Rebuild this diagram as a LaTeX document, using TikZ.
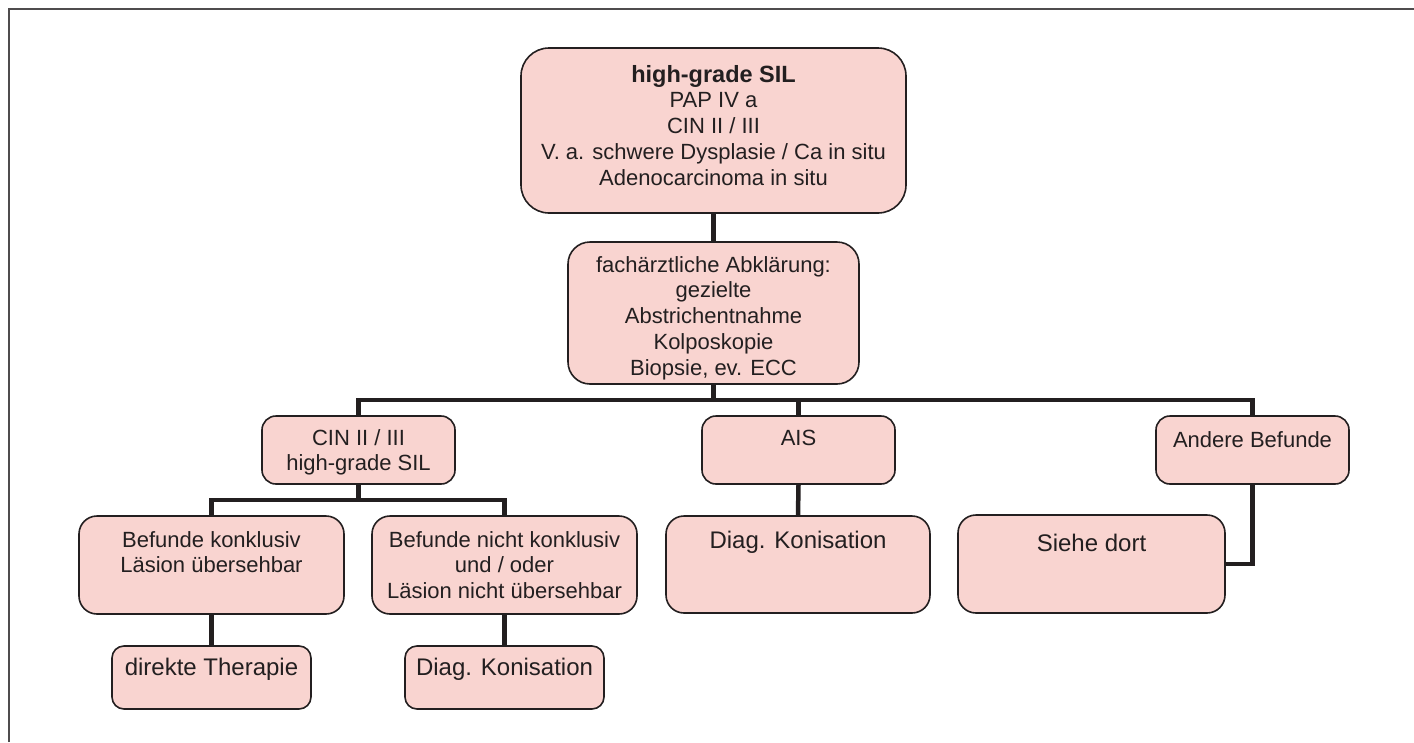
\documentclass[tikz,border=0pt]{standalone}
\usepackage{fontspec}
\setmainfont{Liberation Sans}
\definecolor{boxfill}{RGB}{249,212,208}
\definecolor{ink}{RGB}{35,31,32}
% centred stack of lines whose baseline is that of the first line
\newcommand\boxlines[1]{\begin{tabular}[t]{@{}c@{}}#1\end{tabular}}
\begin{document}
\begin{tikzpicture}[x=1pt,y=-1pt,
  panel/.style={draw=ink, line width=1.6pt, fill=boxfill, inner sep=0pt, rounded corners=#1},
  panel/.default=16pt,
  txt/.style={inner sep=0pt, anchor=base, text=ink, font=\fontsize{22}{25.8}\selectfont},
  bigtxt/.style={txt, font=\fontsize{24}{28}\selectfont},
  conn/.style={draw=ink, line width=4.5pt},
  frame/.style={draw=ink!80, line width=2pt}]
\useasboundingbox (0,0) rectangle (1414,742);

% outer frame (left and top edges)
\draw[frame] (9,742) -- (9,9) -- (1414,9);

% boxes
\node[panel=28pt, minimum width=385pt, minimum height=165pt] (top)    at (713.5,130.5) {};
\node[panel=22pt, minimum width=291pt, minimum height=142pt] (exam)   at (713.5,313)   {};
\node[panel=14pt, minimum width=193pt, minimum height=68pt]  (cin)    at (358.5,450)   {};
\node[panel=14pt, minimum width=193pt, minimum height=68pt]  (ais)    at (798.5,450)   {};
\node[panel=14pt, minimum width=193pt, minimum height=68pt]  (other)  at (1252.5,450)  {};
\node[panel=18pt, minimum width=265pt, minimum height=98pt]  (conc)   at (211.5,565)   {};
\node[panel=18pt, minimum width=265pt, minimum height=98pt]  (nconc)  at (504.5,565)   {};
\node[panel=12pt, minimum width=199pt, minimum height=63pt]  (therapy) at (211.5,677.5) {};
\node[panel=12pt, minimum width=199pt, minimum height=63pt]  (coneA)  at (504.5,677.5) {};
\node[panel=18pt, minimum width=264pt, minimum height=97pt]  (coneB)  at (798,564.5)   {};
\node[panel=18pt, minimum width=267pt, minimum height=98pt]  (see)    at (1091.5,564)  {};

% texts
\node[txt] (topT) at (713.5,82) {\boxlines{{\fontsize{23.5}{25.8}\selectfont\bfseries high-grade SIL}\\PAP IV a\\CIN II / III\\V. a. schwere Dysplasie / Ca in situ\\Adenocarcinoma in situ}};
\node[txt] (examT) at (713.5,272) {\boxlines{fachärztliche Abklärung:\\gezielte\\Abstrichentnahme\\Kolposkopie\\Biopsie, ev. ECC}};
\node[txt] (cinT) at (358.5,445) {\boxlines{CIN II / III\\high-grade SIL}};
\node[txt] (aisT) at (798.5,445) {AIS};
\node[txt] (otherT) at (1252.5,447) {Andere Befunde};
\node[txt] (concT) at (211.5,547) {\boxlines{Befunde konklusiv\\Läsion übersehbar}};
\node[txt] (nconcT) at (504.5,547) {\boxlines{Befunde nicht konklusiv\\und / oder\\Läsion nicht übersehbar}};
\node[bigtxt] (therapyT) at (211.5,675) {direkte Therapie};
\node[bigtxt] (coneAT) at (504.5,675) {Diag. Konisation};
\node[bigtxt] (coneBT) at (798,548) {Diag. Konisation};
\node[bigtxt] (seeT) at (1091.5,551) {Siehe dort};

% connectors
\coordinate (bus) at (713.5,400);
\coordinate (bus2) at (358.5,500);
\draw[conn] (top.south) -- (exam.north);
\draw[conn] (exam.south) -- (bus);
\draw[conn] (cin.north) |- (bus) -| (other.north);
\draw[conn] (ais.north) |- (bus);
\draw[conn] (cin.south) -- (bus2);
\draw[conn] (conc.north) |- (bus2) -| (nconc.north);
\draw[conn] (conc.south) -- (therapy.north);
\draw[conn] (nconc.south) -- (coneA.north);
\draw[conn] (ais.south) -- (coneB.north);
\draw[conn] (other.south) |- (see.east);
\end{tikzpicture}
\end{document}
